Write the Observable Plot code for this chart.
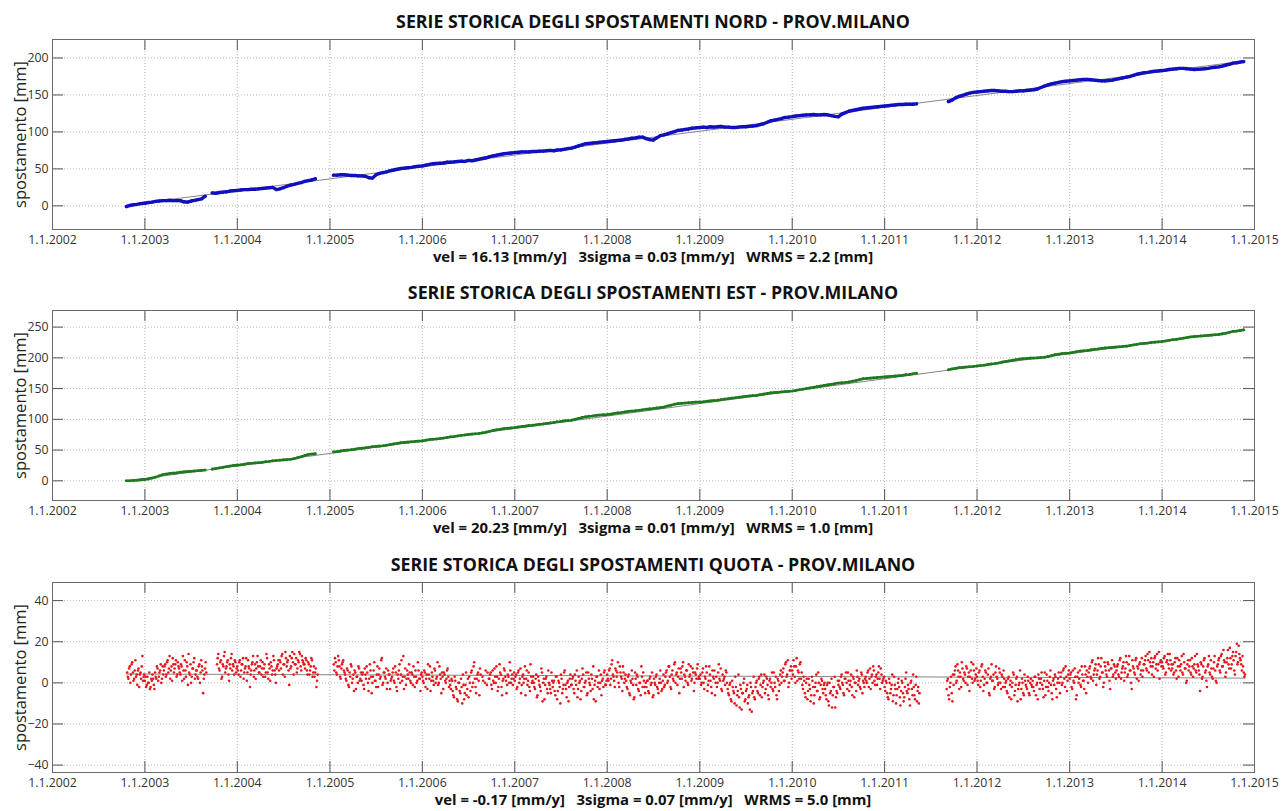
<!DOCTYPE html>
<html><head><meta charset="utf-8">
<script src="https://cdn.jsdelivr.net/npm/d3@7"></script>
<script src="https://cdn.jsdelivr.net/npm/@observablehq/plot@0.6"></script>
<style>
body{margin:0;background:#fff;font-family:"Open Sans",sans-serif;}
#wrap{position:relative;width:1283px;height:811px;overflow:hidden;background:#fff;}
.title,.sub{position:absolute;left:52px;width:1202px;text-align:center;font-weight:700;color:#111;line-height:20px;height:20px;white-space:pre;}
.title{font-size:17.8px;}
.sub{font-size:14.9px;}
.panel{position:absolute;left:0;}
</style></head>
<body><div id="wrap"></div>
<script>
// ---------- data ----------
const xTickYears = [2002,2003,2004,2005,2006,2007,2008,2009,2010,2011,2012,2013,2014,2015];
const titles = [
  "SERIE STORICA DEGLI SPOSTAMENTI NORD - PROV.MILANO",
  "SERIE STORICA DEGLI SPOSTAMENTI EST - PROV.MILANO",
  "SERIE STORICA DEGLI SPOSTAMENTI QUOTA - PROV.MILANO"
];
const stats = [
  "vel = 16.13 [mm/y]   3sigma = 0.03 [mm/y]   WRMS = 2.2 [mm]",
  "vel = 20.23 [mm/y]   3sigma = 0.01 [mm/y]   WRMS = 1.0 [mm]",
  "vel = -0.17 [mm/y]   3sigma = 0.07 [mm/y]   WRMS = 5.0 [mm]"
];
const yLabel = "spostamento [mm]";
const yTicksNord = [0,50,100,150,200];
const yTicksEst = [0,50,100,150,200,250];
const yTicksQuota = [-40,-20,0,20,40];
const yDomainNord = [-32,225];
const yDomainEst = [-32,277];
const yDomainQuota = [-43.6,48.8];

const fitDates = ["2002-10-20","2014-11-25"];
const fitNord = [1,196];
const fitEst = [0,245];
const fitQuota = [4.3,2.3];

// North component, one value every 14 days
const biweeklyStarts = ["2002-10-20","2003-01-01","2004-01-01","2005-01-01","2006-01-01","2007-01-01","2008-01-01","2009-01-01","2010-01-01","2011-01-01","2012-01-01","2013-01-01","2014-01-01"];
const n2002 = [-1,0.5,1.5,2,3,3.5];
const n2003 = [3.5,4.5,5,6,6.5,7,7,7.5,7,7,7,5.5,5,6.5,7.5,8.5,9.5,13,null,17.5,17,18,18.5,19,20,20.5];
const n2004 = [21,21.5,22,22,22.5,22.5,23,23.5,24,24.5,25,22,23,24.5,26.5,28,29,30.5,31.5,33,34,35,36.5,null,null,null];
const n2005 = [null,41.5,41.5,42,42,41.5,41,41,40.5,40.5,40,38,37.5,42,44,45,46,47.5,48.5,49.5,50.5,51,51.5,52,53,53.5];
const n2006 = [54,55,56,57,57.5,57.7,58,59,59,59.5,60,60.5,60,61.5,61,62,63,64,65,66.5,67.5,68.5,69.5,70.5,71,71.5];
const n2007 = [72,72.5,73,73,73,73.5,73.5,74,74,74.5,75,74.5,75.5,75.7,76.5,77.5,78,79.5,81,82.5,84,84.5,85,85.5,86,86.5];
const n2008 = [87,87.5,88,88.5,89,90,90.5,91.5,92,93,93,91,89.5,89,92,95,96,97.5,99,100.5,102,102.5,103.5,104,105,105.5];
const n2009 = [106,106.5,106,107,106.5,107,107.5,106.5,106.5,106,106,106.5,107,107,107.5,108,108.5,110,111,113,115,116,117,118,119.5,120];
const n2010 = [120.7,121.5,122,122.5,123,123,123.5,123,123,123.5,123,122,121,120.5,124,126,128,129,130,131,132,132.5,133,133.5,134,134.5];
const n2011 = [135,135.5,136,136.5,137,137,137.5,137.5,137.5,138,null,null,null,null,null,null,null,null,141,143,146,148,149.5,151,152.5,153.5];
const n2012 = [154,154.5,155,155.5,156,156,155.5,155,155,154.5,154.5,155,155.5,155.5,156,156.5,157,158,160,162,163.5,165,166,167,168,168.5];
const n2013 = [169,169.5,170,170.5,171,171,170.5,170,169.5,169,169,169.5,170,171,172,173,174,175,176.5,178,179,180,180.5,181.5,182,182.5];
const n2014 = [183,183.5,184.5,185,185.5,186,186,185.5,185,184.5,184.7,185,185.5,186,187,187.5,188,189,190.5,191.5,193,193.5,194.5,195];

// East component, one value every 14 days
const e2002 = [0,0,0.5,1,1.5,2];
const e2003 = [2,3,4.5,6,8,10,11,12,12.5,13,14,14.5,15,15.5,16,16.5,17,17.5,null,19,20,21,22,23,24,25];
const e2004 = [25.5,26,27,28,28.5,29,29.5,30,31,31.5,32.5,33,33.5,34,34.5,35,36,37.5,39,41,42.7,43.5,44,null,null,null];
const e2005 = [null,47,47.5,48.5,49.5,50,50.5,51.5,52.5,53,53.6,54.5,55.5,56,56.5,57,58,59,60,61,62,62.5,63,63.5,64,64.5];
const e2006 = [65,66,67,67.5,68,68.7,69.5,70.5,71.5,72,73,74,74.5,75.5,76,76.5,77,78,79,80.5,82,83,84,85,85.5,86];
const e2007 = [86.6,87.5,88.5,89,90,90.4,91,92,92.5,93.5,94,95,96,96.5,97.5,98,98.5,100,101.5,103,104,105,105.5,106.5,107,107.5];
const e2008 = [107.7,108.5,109.5,110.5,111,112,113,113.5,114,114.7,115.5,116.5,117,117.5,118.5,119,120,121.5,123,124.5,125.5,126,126.5,127,127.5,128];
const e2009 = [128,128.5,129.5,130,130.5,131,132,133,133.5,134.5,135,136,136.5,137.5,138,138.5,139,140,141,142,143,143.5,144,144.5,145,145.5];
const e2010 = [146,147,148,149,150,151,152,153,154,155,156,157,158,159,159.5,160,160.7,162,163,164.5,166,166.5,167,167.5,168,168.5];
const e2011 = [169,169.5,170,170.5,171,171.5,172.5,173,174,175,null,null,null,null,null,null,null,null,180.5,182,183,184,184.5,185,185.5,186];
const e2012 = [186.7,187.5,188,189,190,190.5,191.5,193,194,195,196,197,198,198.5,199,199.5,199.7,200,200.5,201,202,203.5,205,206,207,207.5];
const e2013 = [208,209,210,211,211.5,212,213,214,214.5,215.5,216,216.5,217,217.5,218,218.5,219,220,221,222,223,223.5,224,225,225.5,226];
const e2014 = [226.7,227.5,228.5,229.5,230,231,232,233,234,234.5,235,235.5,236,236.5,237,237.5,238,239,240,241.5,243,243.5,244.5,245.5];

// Height component, one value every 5 days (series A), and a second set 2.5 days later (series B)
const quotaStarts = ["2002-10-23","2003-01-01","2004-01-01","2005-01-01","2006-01-01","2007-01-01","2008-01-01","2009-01-01","2010-01-01","2011-01-01","2012-01-01","2013-01-01","2014-01-01"];
const q2002 = [5,2,8,4,10,1,6,3,-1,7,4,2,13,3];
const q2003 = [1,-2,3,0,-3,2,4,-1, 5,2,7,3,6,0,8, 6,9,4,11,7,2,8,12,5,9,3,10,7, 4,8,13,2,6,10,-1,5,9,3,7,12,4, 6,2,9,5,8,-5,4,10, null,null,null,null,null,null,null,null, 9,14,6,11,3,8,15,7,10,4,9,12,6,8,11,5];
const q2004 = [8,4,11,6,9,2,7,12,5,8,-2,6,10,3,9,7,13,5,8,4,10, 7,3,14,5,9,1,8,6,11,4,7,9, 6,10,13,4,9,15,8,11,-1,7,12,10,14,9,5,11,15,8,13,10, 9,12,6,10,4,8,11,5,3,7,1, null,null,null,null,null,null,null,null,null];
const q2005 = [null,null,null, 9,12,5,8,11,3,7,10,6, 4,1,6,-2,3,8,2,-4,5,3,0,7,2, 1,5,-3,4,8,0,2,6,-5,3,10,1,4,-2,7,3,12,0,5,2,-3,6,4,1, 3,7,0,5,-4,2,9,4,1,13,3,-1,6,2,5,0,4,8,-2,3,1,6,2,4];
const q2006 = [3,0,5,2,-3,4,8,1,3,-1,6,2,10,0,4,-5,3,5,1,2,7,-2, -1,2,-4,-7,1,-3,-9,0,-5,-2,4,-8,-1,-6,2, 3,-4,6,0,10,-2,2,5,-6, 4,null,1,null,6,-1,null, 2,5,-3,1,7,0,3,-2,9,4,-6,2,6,1,-1,3,10,0,4,2];
const q2007 = [1,4,-2,6,2,-5,3,0,8,2,-1,5,-4,3,1, 0,-3,4,-6,1,-2,7,-9,2,-1,3,-5,0,-3,5, -2,1,-6,3,-4,0,-10,2,-3,5,-1,-7,1,-2,4, -1,3,-5,1,6,-3,0,-8,2,4,-2,1,-6,5,0,-4,2,8,-1,-9,3,0,-3,4,1,-2,6,-1];
const q2008 = [4,1,7,2,11,3,-2,6,5,0,8,3,-4,5,2, 1,-3,4,-6,0,2,-8,5,-1,3,-4,0,8,-2,1,-5, -2,1,-5,3,0,-7,2,-1,4,-3,0,6,-4,1,-2, 3,6,1,8,-2,4,2,9,0,5,3,-5,7,2,10,4,1,6,-1,3,8,2,5,0,4,7,2];
const q2009 = [2,-1,5,0,3,8,-4,1,4,-2,6,2,-6,3,0,9,1,-3,4,2,-1,5, -3,-6,0,-9,-2,-5,3,-11,-4,-7,-1,-13,-5,2,-8,-3,-10,-6,0,-14,-4,-7, -2,1,-5,3,-1,-7,0,4,-3,2,-6,1,-2,5,-4,0,3,-8,1,-1,6, 3,7,1,10,4,-2,6,8];
const q2010 = [6,11,3,8,1,5,9,2, -1,3,-5,0,-8,2,-3,-6,1,-10,-2,4,-4,0,-7,2,-3,-1, -3,-8,0,-11,-5,2,-6,-2,-12,-4,1, 1,-3,4,-1,-6,2,0,5,-4,1,-2,3,-7,0,6,-1,2,-3,4,1,-2, 3,0,6,2,-3,4,8,1,3,-1,5,2,7,0,2];
const q2011 = [-2,1,-5,-8,0,-3,4,-6,-1,-10,-3,2,-7,-4,0,-9,-2,5,-5,-3,-11,1,-6,-2,-8,3,-4,-10, null,null,null,null,null,null,null,null,null,null,null,null,null,null,null,null,null,null,null,null,null, -3,2,-8,0,-5,4, 4,8,1,6,-3,3,10,2,5,0,7,3,-4,6,2,9,1,4];
const q2012 = [3,-1,6,1,9,-4,2,5,0,7,-6,3,1,4,-2,8,2,0,5,-3,3,6, -2,1,-5,3,-1,-8,0,4,-4,2,-9,-1,6,-3,0,-6,1,-2,3,-5,0,-1, 1,-4,3,-1,-8,2,0,5,-3,1,-6,4,-2,0,6,-5,1,-1,3,-7,2,0, 3,-1,6,2,8,-4,4];
const q2013 = [2,5,-3,1,7,-8,3,0,6,-2,4,1,8,-5,3, 5,8,2,11,4,7,-1,6,9,3,12,5,0,8,4,10,6,-3,7,3,9,5, 6,9,3,12,5,8,1,7,10,4,13,6,-3,8,5,11,2,7,9,4,12,6, 9,13,6,11,15,8,4,10,12,7,14,9,2,11];
const q2014 = [10,7,13,5,11,9,14,6, 7,4,10,6,12,3,8,9,5,14,7,0,9,6,11,4,8,7,13,5,9, 6,-4,9,3,11,5,1,8,13,4,7,2,10,6,0, 9,12,5,14,8,11,3,10,16,7,12,9,15,6,13,19,10,14, 11,6,8,3];

const qb2002 = [3,7,0,9,5,2,11,4,6,-2,5,8,1,4];
const qb2003 = [3,-1,0,5,-2,1,2,-3, 3,8,1,5,9,2,4, 8,3,10,5,13,6,1,9,7,11,4,8,5, 9,1,6,11,3,8,14,4,0,7,10,2,6, 3,8,0,11,6,2,7,5, null,null,null,null,null,null,null,null, 12,7,10,2,9,13,5,8,11,1,7,14,9,4,10,7];
const qb2004 = [6,10,3,9,12,5,8,1,11,7,4,9,13,6,2,10,8,5,11,7,3, 9,5,12,2,7,10,4,13,6,0,8,11, 11,7,14,9,3,12,10,6,13,8,15,4,9,12,7,10,14,6,11,9, 7,11,4,9,6,12,3,8,5,-2,4, null,null,null,null,null,null,null,null,null];
const qb2005 = [null,null,null, 6,10,4,13,8,2,9,11,5, 2,7,-1,5,9,0,4,6,-3,3,8,1,5, 4,-1,7,2,5,-4,9,3,0,6,1,-2,8,4,2,11,-1,5,3,7,0,4,-3,2, 5,1,8,-2,4,6,0,11,3,-3,7,2,4,9,1,5,-1,3,6,0,10,2,-4,5];
const qb2006 = [1,6,-2,4,9,2,-4,5,1,7,0,3,-1,8,2,5,-3,4,0,6,3,1, -3,1,-6,3,-2,-8,0,-4,2,-10,-1,-5,5,-3,-7, 0,5,-2,8,2,-5,4,1,7, null,3,null,0,null,5,2, 4,-1,6,0,3,8,-4,2,5,-2,1,7,3,-5,4,0,6,2,-1,5];
const qb2007 = [3,-3,5,0,7,-1,4,2,-6,6,1,-2,9,0,3, -2,2,-7,3,-1,-4,5,0,-8,2,-3,6,-1,-5,1, 0,-4,3,-8,1,-2,4,-5,-1,6,-3,0,-9,2,-1, 2,-3,4,-1,-7,3,1,-4,7,-2,0,5,-5,2,-1,4,-3,-8,1,3,-2,6,0,-6,2,5,-1,1];
const qb2008 = [2,6,-1,9,4,1,7,3,10,-2,5,2,8,0,4, -2,3,-5,1,6,-1,-7,2,4,-3,0,-6,3,5,-2,0, 1,-4,2,-1,5,-6,0,3,-2,-5,2,0,-3,4,-1, 5,0,8,3,-3,6,1,10,4,-1,7,2,5,8,-2,3,6,0,9,4,1,7,-4,5,2,9,3];
const qb2009 = [4,0,7,-3,2,5,-1,8,1,-5,3,6,0,-2,5,2,7,-4,1,3,6,0, -5,-1,-8,1,-4,-10,-2,-6,4,-12,-3,-5,0,-9,-4,-1,-7,-13,-2,-5,3,-8, 0,-4,2,-6,4,-2,1,-5,3,-1,-8,2,0,-3,5,-2,-6,2,-4,4,0, 5,1,9,3,11,0,6,2];
const qb2010 = [4,8,0,12,6,2,10,5, -3,1,-7,2,-4,-1,-9,3,-2,-6,0,-4,5,-8,-1,1,-5,0, -6,-1,-9,0,-4,-12,-2,3,-7,-5,-1, -2,3,0,-5,2,5,-3,1,-1,4,-6,2,0,-4,3,1,-2,5,-5,0,2, 1,5,-2,7,3,0,6,-1,4,2,8,-3,4,1,3];
const qb2011 = [-4,0,-7,2,-5,-1,-9,3,-3,-6,0,-2,-11,1,-5,-7,2,-4,-1,-8,0,-3,4,-6,-1,-9,-2,-5, null,null,null,null,null,null,null,null,null,null,null,null,null,null,null,null,null,null,null,null,null, 1,-6,-2,3,-9,-1, 6,0,9,3,5,-2,7,1,4,8,-1,5,3,10,0,6,2,7];
const qb2012 = [1,5,-2,8,3,-1,6,0,4,-5,2,9,1,-3,5,3,-1,7,0,4,-2,2, 0,-4,2,-7,1,-2,5,-6,-1,3,-3,0,-8,2,-5,4,-1,-3,1,-6,2,-2, -2,3,-6,0,4,-3,2,-1,-7,5,-2,1,-4,3,-1,-8,2,4,-3,0,5,-5, 5,0,7,-2,3,1,6];
const qb2013 = [4,-2,6,0,3,-6,5,2,-1,8,1,-3,4,6,0, 7,3,10,1,6,9,4,12,2,8,5,-2,10,6,3,9,1,7,11,4,8,2, 8,4,11,2,7,10,5,13,3,9,6,0,11,7,4,12,8,1,10,6,3,9, 11,7,14,5,10,12,8,3,13,9,6,15,10,8];
const qb2014 = [8,12,4,10,14,7,11,9, 9,5,12,2,8,11,6,13,4,10,7,1,11,8,5,12,3,9,6,14,8, 4,10,2,8,12,6,-2,9,5,11,3,7,13,1,8, 11,6,13,8,16,10,5,12,9,17,7,13,11,4,15,9,18,12, 9,13,5,4];

// ---------- build ----------
const DAY = 864e5;
function series(chunks, starts, step, offset = 0) {
  const rows = [];
  chunks.forEach((arr, k) => {
    const t0 = Date.parse(starts[k]) + offset * DAY;
    arr.forEach((v, i) => rows.push({date: new Date(t0 + i * step * DAY), v}));
  });
  return rows;
}
const nordRows = series([n2002,n2003,n2004,n2005,n2006,n2007,n2008,n2009,n2010,n2011,n2012,n2013,n2014], biweeklyStarts, 14);
const estRows = series([e2002,e2003,e2004,e2005,e2006,e2007,e2008,e2009,e2010,e2011,e2012,e2013,e2014], biweeklyStarts, 14);
const quotaRows = series([q2002,q2003,q2004,q2005,q2006,q2007,q2008,q2009,q2010,q2011,q2012,q2013,q2014], quotaStarts, 5)
  .concat(series([qb2002,qb2003,qb2004,qb2005,qb2006,qb2007,qb2008,qb2009,qb2010,qb2011,qb2012,qb2013,qb2014], quotaStarts, 5, 2.5));
const fitRows = vals => fitDates.map((d, i) => ({date: new Date(Date.parse(d)), v: vals[i]}));

const xTicks = xTickYears.map(y => new Date(Date.UTC(y, 0, 1)));
const xDomain = [xTicks[0], xTicks[xTicks.length - 1]];

const PH = 190, PW = 1202, TICK = 11;
function panel({rows, fit, yDomain, yTicks, color, lineW, dotR}) {
  const grid = {stroke: "#b4b4b4", strokeOpacity: 1, strokeDasharray: "1,2"};
  const tk = {stroke: "#555", strokeWidth: 1};
  const marks = [
    Plot.gridX(xTicks, grid),
    Plot.gridY(yTicks, grid),
    Plot.line(fitRows(fit), {x: "date", y: "v", stroke: "#858585", strokeWidth: 1})
  ];
  if (lineW) marks.push(Plot.line(rows, {x: "date", y: "v", stroke: color, strokeWidth: lineW}));
  marks.push(Plot.dot(rows, {x: "date", y: "v", r: dotR, fill: color, stroke: "none"}));
  marks.push(
    // inward tick marks on all four sides
    Plot.ruleX(xTicks, {x: d => d, insetTop: PH - TICK, ...tk}),
    Plot.ruleX(xTicks, {x: d => d, insetBottom: PH - TICK, ...tk}),
    Plot.ruleY(yTicks, {y: d => d, insetRight: PW - TICK, ...tk}),
    Plot.ruleY(yTicks, {y: d => d, insetLeft: PW - TICK, ...tk}),
    Plot.frame({stroke: "#6a6a6a"}),
    Plot.axisX(xTicks, {anchor: "bottom", tickSize: 0, tickPadding: 6, tickFormat: d => `1.1.${d.getUTCFullYear()}`, label: null, fontSize: 12.3, fill: "#333"}),
    Plot.axisY(yTicks, {anchor: "left", tickSize: 0, tickPadding: 4, label: null, fontSize: 12.3, fill: "#333"}),
    Plot.text([yLabel], {frameAnchor: "left", dx: -32, rotate: -90, textAnchor: "middle", fontSize: 16.5, fill: "#222", text: d => d})
  );
  return Plot.plot({
    width: 1283, height: 221,
    marginLeft: 52, marginRight: 29, marginTop: 9, marginBottom: 22,
    x: {type: "utc", domain: xDomain},
    y: {domain: yDomain},
    style: {fontFamily: "'Open Sans', sans-serif", background: "transparent", overflow: "visible", color: "#333"},
    marks
  });
}

const wrap = document.getElementById("wrap");
const cfg = [
  {rows: nordRows, fit: fitNord, yDomain: yDomainNord, yTicks: yTicksNord, color: "#1010c0", lineW: 3.4, dotR: 1.6, top: 30, titleTop: 11, subTop: 246},
  {rows: estRows, fit: fitEst, yDomain: yDomainEst, yTicks: yTicksEst, color: "#1f7a1f", lineW: 2.6, dotR: 1.4, top: 301, titleTop: 282, subTop: 517},
  {rows: quotaRows, fit: fitQuota, yDomain: yDomainQuota, yTicks: yTicksQuota, color: "#e3161c", lineW: 0, dotR: 1.3, top: 573, titleTop: 554, subTop: 789}
];
cfg.forEach((c, i) => {
  const t = document.createElement("div");
  t.className = "title"; t.style.top = c.titleTop + "px"; t.textContent = titles[i];
  wrap.appendChild(t);
  const p = panel(c);
  p.classList.add("panel"); p.style.top = c.top + "px";
  wrap.appendChild(p);
  const s = document.createElement("div");
  s.className = "sub"; s.style.top = c.subTop + "px"; s.textContent = stats[i];
  wrap.appendChild(s);
});
</script>
</body></html>
